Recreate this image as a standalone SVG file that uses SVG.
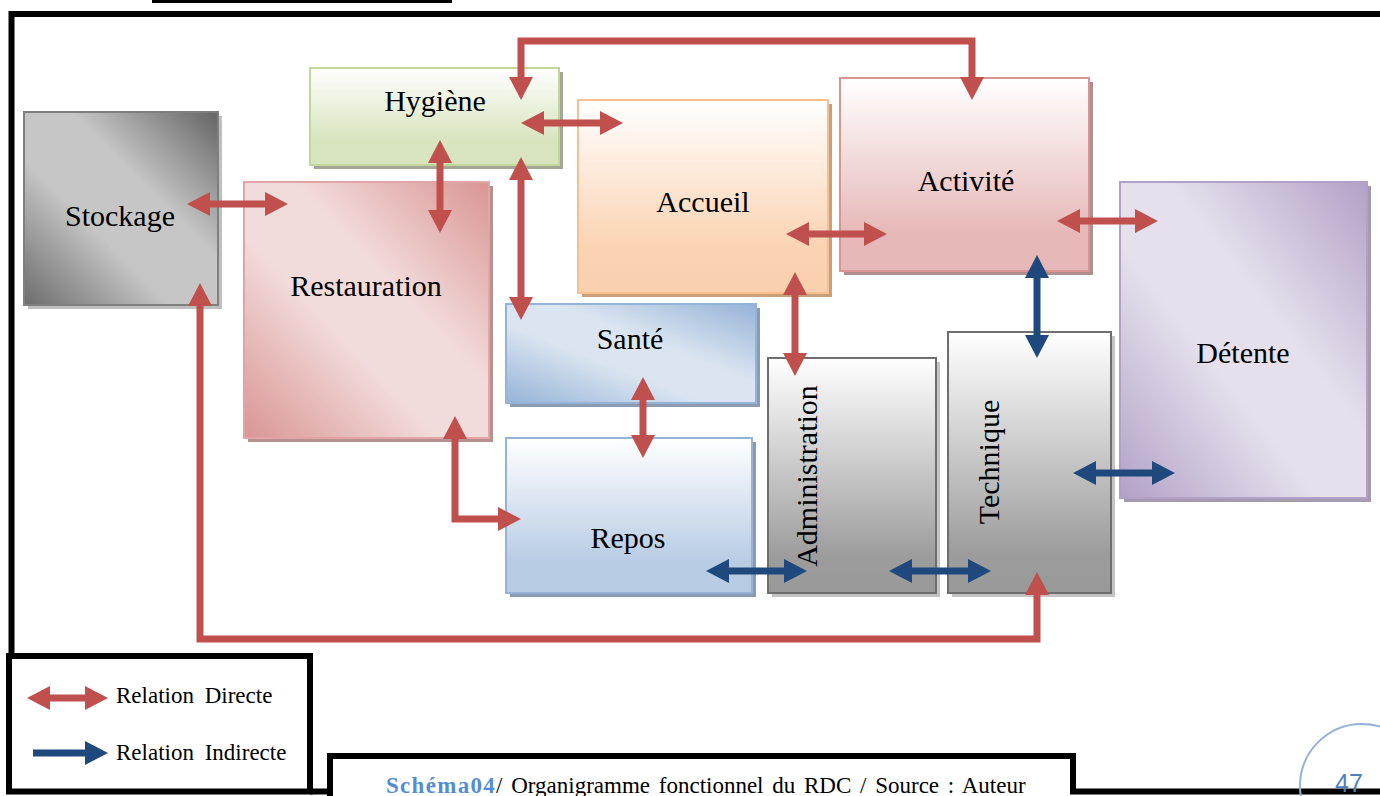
<svg xmlns="http://www.w3.org/2000/svg" width="1380" height="796" viewBox="0 0 1380 796">
<style>
.frame{fill:none;stroke:#000;stroke-width:6}
.lbl{font-family:"Liberation Serif","Times New Roman",serif;font-size:30px;fill:#000;text-anchor:middle}
.leg{font-family:"Liberation Serif","Times New Roman",serif;font-size:23px;fill:#000;word-spacing:5px}
.cap{font-family:"Liberation Serif","Times New Roman",serif;font-size:23px;fill:#000}
.red{fill:none;stroke:#c0504d;stroke-width:7;stroke-linejoin:miter}
.blue{fill:none;stroke:#1f497d;stroke-width:7}
.rd{marker-start:url(#hr);marker-end:url(#hr)}
.bd{marker-start:url(#hb);marker-end:url(#hb)}
</style>
<defs>
<marker id="hr" markerUnits="userSpaceOnUse" viewBox="0 0 23 24" markerWidth="23" markerHeight="24" refX="2" refY="12" orient="auto-start-reverse"><path d="M0,0 L23,12 L0,24 Z" fill="#c0504d"/></marker>
<marker id="hb" markerUnits="userSpaceOnUse" viewBox="0 0 23 24" markerWidth="23" markerHeight="24" refX="2" refY="12" orient="auto-start-reverse"><path d="M0,0 L23,12 L0,24 Z" fill="#1f497d"/></marker>
<linearGradient id="gStock" x1="0" y1="1" x2="1" y2="0"><stop offset="0" stop-color="#6c6c6c"/><stop offset="0.38" stop-color="#c6c6c6"/><stop offset="0.62" stop-color="#c6c6c6"/><stop offset="1" stop-color="#646464"/></linearGradient>
<linearGradient id="gRest" x1="0" y1="1" x2="1" y2="0"><stop offset="0" stop-color="#d99594"/><stop offset="0.4" stop-color="#f2dcdb"/><stop offset="0.6" stop-color="#f2dcdb"/><stop offset="1" stop-color="#d99594"/></linearGradient>
<linearGradient id="gDet" x1="0" y1="1" x2="1" y2="0"><stop offset="0" stop-color="#b2a1c7"/><stop offset="0.4" stop-color="#e5e0ec"/><stop offset="0.6" stop-color="#e5e0ec"/><stop offset="1" stop-color="#b2a1c7"/></linearGradient>
<linearGradient id="gSante" x1="0" y1="1" x2="1" y2="0"><stop offset="0" stop-color="#95b3d7"/><stop offset="0.4" stop-color="#dbe5f1"/><stop offset="0.6" stop-color="#dbe5f1"/><stop offset="1" stop-color="#95b3d7"/></linearGradient>
<linearGradient id="gHyg" x1="0" y1="0" x2="0" y2="1"><stop offset="0" stop-color="#ffffff"/><stop offset="0.75" stop-color="#d7e4bd"/><stop offset="1" stop-color="#d7e4bd"/></linearGradient>
<linearGradient id="gAcc" x1="0" y1="0" x2="0" y2="1"><stop offset="0" stop-color="#ffffff"/><stop offset="0.75" stop-color="#fbd4b4"/><stop offset="1" stop-color="#fad0ae"/></linearGradient>
<linearGradient id="gAct" x1="0" y1="0" x2="0" y2="1"><stop offset="0" stop-color="#ffffff"/><stop offset="0.8" stop-color="#e6b9b8"/><stop offset="1" stop-color="#e6b9b8"/></linearGradient>
<linearGradient id="gRepos" x1="0" y1="0" x2="0" y2="1"><stop offset="0" stop-color="#ffffff"/><stop offset="0.8" stop-color="#b8cce4"/><stop offset="1" stop-color="#b8cce4"/></linearGradient>
<linearGradient id="gGray" x1="0" y1="0" x2="0" y2="1"><stop offset="0" stop-color="#ffffff"/><stop offset="0.85" stop-color="#9c9c9c"/><stop offset="1" stop-color="#999999"/></linearGradient>
</defs>

<rect width="1380" height="796" fill="#fff"/>

<g id="page">
<line x1="152" y1="1.5" x2="452" y2="1.5" stroke="#000" stroke-width="3"/>
<path class="frame" d="M11.5,656 V14 H1385" stroke-width="5"/>
</g>

<g id="stockage">
<rect x="28" y="116" width="194" height="193" fill="#bfbfbf"/>
<rect x="24" y="112" width="194" height="193" fill="url(#gStock)" stroke="#7f7f7f" stroke-width="2"/>
<text class="lbl" x="120" y="226">Stockage</text>
</g>

<g id="restauration">
<rect x="248" y="186" width="245" height="256" fill="#b89090"/>
<rect x="244" y="182" width="245" height="256" fill="url(#gRest)" stroke="#e0a5a4" stroke-width="2"/>
<text class="lbl" x="366" y="296">Restauration</text>
</g>

<g id="hygiene">
<rect x="314" y="72" width="249" height="97" fill="#a3a895"/>
<rect x="310" y="68" width="249" height="97" fill="url(#gHyg)" stroke="#c3d69b" stroke-width="2"/>
<text class="lbl" x="435" y="111">Hygiène</text>
</g>

<g id="accueil">
<rect x="582" y="104" width="250" height="193" fill="#c9a07c"/>
<rect x="578" y="100" width="250" height="193" fill="url(#gAcc)" stroke="#fabf8f" stroke-width="2"/>
<text class="lbl" x="703" y="212">Accueil</text>
</g>

<g id="activite">
<rect x="844" y="82" width="249" height="193" fill="#b08e8e"/>
<rect x="840" y="78" width="249" height="193" fill="url(#gAct)" stroke="#d99594" stroke-width="2"/>
<text class="lbl" x="966" y="191">Activité</text>
</g>

<g id="detente">
<rect x="1124" y="186" width="247" height="316" fill="#a49cae"/>
<rect x="1120" y="182" width="247" height="316" fill="url(#gDet)" stroke="#b2a1c7" stroke-width="2"/>
<text class="lbl" x="1243" y="363">Détente</text>
</g>

<g id="sante">
<rect x="510" y="308" width="250" height="99" fill="#8a9bb2"/>
<rect x="506" y="304" width="250" height="99" fill="url(#gSante)" stroke="#95b3d7" stroke-width="2"/>
<text class="lbl" x="630" y="349">Santé</text>
</g>

<g id="repos">
<rect x="510" y="442" width="246" height="155" fill="#8a9bb2"/>
<rect x="506" y="438" width="246" height="155" fill="url(#gRepos)" stroke="#95b3d7" stroke-width="2"/>
<text class="lbl" x="628" y="548">Repos</text>
</g>

<g id="administration">
<rect x="772" y="362" width="168" height="235" fill="#c4c4c4"/>
<rect x="768" y="358" width="168" height="235" fill="url(#gGray)" stroke="#6e6e6e" stroke-width="2"/>
<text class="lbl" transform="translate(817,476) rotate(-90)">Administration</text>
</g>

<g id="technique">
<rect x="952" y="336" width="163" height="261" fill="#c4c4c4"/>
<rect x="948" y="332" width="163" height="261" fill="url(#gGray)" stroke="#6e6e6e" stroke-width="2"/>
<text class="lbl" transform="translate(999,462) rotate(-90)">Technique</text>
</g>

<g id="connectors">
<path class="red rd" d="M208,204 H267"/>
<path class="red rd" d="M440,161 V212"/>
<path class="red rd" d="M521,178 V299"/>
<path class="red rd" d="M542,123 H602"/>
<path class="red rd" d="M521,79 V41 H972 V79"/>
<path class="red rd" d="M807,234 H866"/>
<path class="red rd" d="M795,293 V355"/>
<path class="red rd" d="M1078,221 H1137"/>
<path class="red rd" d="M643,398 V437"/>
<path class="red rd" d="M455,437 V519 H500"/>
<path class="red rd" d="M200,304 V639 H1037 V593"/>
<path class="blue bd" d="M1037,276 V337"/>
<path class="blue bd" d="M1094,473 H1154"/>
<path class="blue bd" d="M727,571 H786"/>
<path class="blue bd" d="M910,571 H970"/>
</g>

<g id="legend">
<rect class="frame" x="9" y="656" width="301" height="135.5" stroke-width="7"/>
<path class="red rd" d="M48,698 H87"/>
<text class="leg" x="116" y="703">Relation Directe</text>
<path class="blue" d="M33,753 H87" marker-end="url(#hb)"/>
<text class="leg" x="116" y="760">Relation Indirecte</text>
</g>

<g id="caption">
<path class="frame" d="M310,791.5 H330"/>
<path class="frame" d="M330,800 V756 H1073 V791.5 H1385"/>
<text class="cap" x="386" y="793"><tspan fill="#548dd4" font-weight="bold" letter-spacing="1.3">Schéma04</tspan><tspan word-spacing="3">/ Organigramme  fonctionnel du RDC / Source : Auteur</tspan></text>
</g>

<g id="pagenum">
<circle cx="1362" cy="786" r="62" fill="none" stroke="#95b3d7" stroke-width="2"/>
<text x="1349" y="792" font-family="'Liberation Sans',Arial,sans-serif" font-size="25" fill="#4f81bd" text-anchor="middle">47</text>
</g>
</svg>
